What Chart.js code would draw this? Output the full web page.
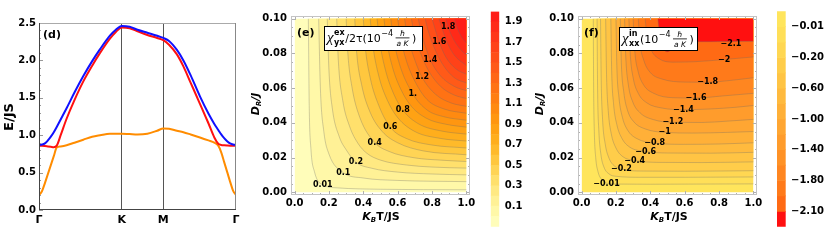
<!DOCTYPE html>
<html><head><meta charset="utf-8">
<script src="https://cdn.jsdelivr.net/npm/chart.js@4.4.1/dist/chart.umd.min.js"></script>
<style>
html,body{margin:0;padding:0;background:#fff;width:830px;height:243px;overflow:hidden}
canvas{position:absolute;top:0}
</style></head><body>
<canvas id="cd" width="245" height="243" style="left:0px"></canvas>
<canvas id="ce" width="235" height="243" style="left:245px"></canvas>
<canvas id="cf" width="240" height="243" style="left:530px"></canvas>
<canvas id="cbe" width="50" height="243" style="left:488px"></canvas>
<canvas id="cbf" width="55" height="243" style="left:775px"></canvas>
<script>
// ================= DATA =================
// Panel (d): band structure along Γ-K-M-Γ
const pathTicks = [0, 0.42, 0.631, 1];
const pathLabels = ['Γ', 'K', 'M', 'Γ'];
const energyTicks = [0, 0.5, 1, 1.5, 2, 2.5];
const kx = [0, 0.015, 0.03, 0.045, 0.06, 0.075, 0.09, 0.11, 0.14, 0.18, 0.225, 0.27, 0.31, 0.36, 0.39, 0.42, 0.46, 0.50, 0.55, 0.60, 0.631, 0.66, 0.70, 0.733, 0.77, 0.817, 0.86, 0.89, 0.91, 0.925, 0.94, 0.955, 0.97, 0.985, 1];
const blueBand = [0.87,0.875,0.89,0.93,0.98,1.04,1.11,1.21,1.36,1.57,1.79,1.99,2.15,2.33,2.41,2.46,2.45,2.41,2.37,2.33,2.30,2.26,2.14,2.00,1.80,1.52,1.29,1.15,1.07,1.01,0.96,0.92,0.89,0.875,0.87];
const redBand = [0.86,0.858,0.855,0.85,0.845,0.84,0.86,1.00,1.22,1.47,1.72,1.93,2.10,2.29,2.38,2.44,2.43,2.39,2.34,2.30,2.27,2.21,2.08,1.92,1.70,1.42,1.16,0.97,0.885,0.87,0.865,0.862,0.86,0.86,0.86];
const orangeBand = [0.20,0.25,0.36,0.48,0.60,0.72,0.835,0.85,0.865,0.90,0.94,0.98,1.00,1.02,1.02,1.02,1.015,1.01,1.02,1.06,1.09,1.085,1.06,1.04,1.01,0.97,0.93,0.90,0.86,0.77,0.64,0.51,0.38,0.26,0.20];

// Panels (e),(f): axes
const tempTicks = [0, 0.2, 0.4, 0.6, 0.8, 1.0];
const drTicks = [0, 0.02, 0.04, 0.06, 0.08, 0.10];

// Panel (e): contour levels and contour lines (x = KBT/JS, y = DR/J)
const eLevels = [0.01,0.1,0.2,0.3,0.4,0.5,0.6,0.7,0.8,0.9,1.0,1.1,1.2,1.3,1.4,1.5,1.6,1.7,1.8,1.9];
const eContourX = [
  [0.08,0.085,0.095,0.115,0.164,0.25,0.5,1],
  [0.14,0.15,0.17,0.2,0.283,0.4,0.6,1],
  [0.19,0.2,0.22,0.26,0.3,0.357,0.45,0.6,0.8,1],
  [0.245,0.255,0.28,0.32,0.37,0.42,0.5,0.65,0.8,1],
  [0.30,0.31,0.335,0.38,0.466,0.55,0.7,0.85,1],
  [0.35,0.36,0.39,0.44,0.51,0.6,0.75,1],
  [0.40,0.41,0.44,0.49,0.557,0.65,0.8,1],
  [0.44,0.455,0.49,0.54,0.6,0.7,0.85,1],
  [0.48,0.495,0.53,0.58,0.63,0.72,0.86,1],
  [0.52,0.535,0.57,0.62,0.68,0.77,0.88,1],
  [0.56,0.575,0.61,0.688,0.77,0.87,1],
  [0.60,0.615,0.65,0.7,0.77,0.87,1],
  [0.64,0.655,0.69,0.742,0.82,0.91,1],
  [0.68,0.695,0.73,0.78,0.85,0.93,1],
  [0.72,0.735,0.765,0.79,0.85,0.93,1],
  [0.76,0.775,0.81,0.86,0.93,1],
  [0.80,0.815,0.842,0.88,0.94,1],
  [0.84,0.855,0.885,0.93,1],
  [0.88,0.894,0.92,0.96,1],
  [0.93,0.95,0.975,1]
];
const eContourY = [
  [0.1,0.05,0.025,0.012,0.0042,0.0025,0.0017,0.0014],
  [0.1,0.06,0.035,0.022,0.0113,0.0082,0.0068,0.0061],
  [0.1,0.07,0.048,0.032,0.0245,0.0173,0.0138,0.0116,0.0105,0.010],
  [0.1,0.075,0.053,0.038,0.028,0.0225,0.0185,0.0157,0.0145,0.0139],
  [0.1,0.08,0.06,0.043,0.0287,0.0235,0.0198,0.0185,0.0177],
  [0.1,0.082,0.062,0.046,0.035,0.0285,0.0238,0.0216],
  [0.1,0.085,0.066,0.05,0.0375,0.031,0.0272,0.0255],
  [0.1,0.085,0.067,0.053,0.043,0.035,0.031,0.0295],
  [0.1,0.087,0.07,0.056,0.0473,0.0395,0.0352,0.0335],
  [0.1,0.088,0.072,0.059,0.0495,0.0425,0.0392,0.0375],
  [0.1,0.089,0.074,0.0567,0.0475,0.0435,0.0415],
  [0.1,0.09,0.076,0.064,0.0535,0.048,0.0455],
  [0.1,0.091,0.079,0.0663,0.0565,0.0515,0.0495],
  [0.1,0.092,0.081,0.07,0.061,0.056,0.054],
  [0.1,0.093,0.083,0.0763,0.067,0.061,0.0585],
  [0.1,0.094,0.084,0.074,0.066,0.063],
  [0.1,0.095,0.0865,0.078,0.071,0.068],
  [0.1,0.0955,0.087,0.079,0.073],
  [0.1,0.0952,0.089,0.083,0.079],
  [0.1,0.094,0.089,0.086]
];
const eLabelText = ['0.01','0.1','0.2','0.4','0.6','0.8','1.','1.2','1.4','1.6','1.8'];
const eLabelX = [0.164,0.283,0.357,0.466,0.557,0.63,0.688,0.742,0.79,0.842,0.894];
const eLabelY = [0.004,0.0113,0.0173,0.0287,0.0375,0.0473,0.0567,0.0663,0.0763,0.0865,0.0952];
const eBarTickPos = [2,4,6,8,10,12,14,16,18,20];
const eBarTickLabels = ['0.1','0.3','0.5','0.7','0.9','1.1','1.3','1.5','1.7','1.9'];

// Panel (f): contour levels and contour lines
const fLevels = [-0.01,-0.1,-0.2,-0.4,-0.6,-0.8,-1.0,-1.2,-1.4,-1.6,-1.8,-2.0,-2.1];
const fContourX = [
  [0.068,0.070,0.074,0.082,0.095,0.115,0.145,0.2,0.4,0.7,1],
  [0.09,0.093,0.1,0.112,0.13,0.16,0.2,0.35,0.6,1],
  [0.11,0.114,0.122,0.137,0.16,0.19,0.232,0.35,0.6,1],
  [0.14,0.145,0.155,0.172,0.2,0.24,0.309,0.45,0.7,1],
  [0.17,0.175,0.186,0.205,0.235,0.28,0.373,0.5,0.75,1],
  [0.20,0.205,0.217,0.238,0.27,0.32,0.425,0.6,0.8,1],
  [0.225,0.231,0.245,0.268,0.305,0.37,0.483,0.65,0.85,1],
  [0.25,0.257,0.272,0.298,0.34,0.42,0.531,0.7,0.85,1],
  [0.275,0.283,0.3,0.33,0.38,0.47,0.593,0.75,0.9,1],
  [0.30,0.309,0.328,0.36,0.42,0.53,0.666,0.82,1],
  [0.33,0.34,0.362,0.4,0.47,0.6,0.734,0.87,1],
  [0.37,0.38,0.405,0.45,0.53,0.65,0.83,1],
  [0.444,0.455,0.475,0.5,0.525,0.56,0.62,0.75,0.869,1]
];
const fContourY = [
  [0.1,0.06,0.035,0.02,0.012,0.0075,0.0052,0.0047,0.0046,0.0047,0.0048],
  [0.1,0.06,0.036,0.022,0.0145,0.0105,0.0092,0.0086,0.0086,0.0088],
  [0.1,0.065,0.042,0.028,0.0195,0.0152,0.0133,0.0122,0.0121,0.0124],
  [0.1,0.068,0.047,0.034,0.0255,0.0205,0.0183,0.0172,0.0171,0.0175],
  [0.1,0.07,0.051,0.039,0.031,0.026,0.0235,0.0226,0.0225,0.023],
  [0.1,0.073,0.055,0.043,0.0355,0.031,0.0283,0.0276,0.0278,0.0285],
  [0.1,0.075,0.058,0.047,0.0405,0.0365,0.0345,0.0341,0.0345,0.035],
  [0.1,0.078,0.062,0.052,0.0458,0.0418,0.0403,0.0402,0.041,0.042],
  [0.1,0.08,0.066,0.057,0.0515,0.0485,0.0476,0.048,0.049,0.050],
  [0.1,0.082,0.07,0.062,0.057,0.0545,0.0543,0.0555,0.057],
  [0.1,0.086,0.076,0.069,0.0652,0.0635,0.0634,0.0645,0.066],
  [0.1,0.09,0.082,0.077,0.075,0.0752,0.0765,0.078],
  [0.1,0.09,0.083,0.081,0.0825,0.0855,0.0866,0.0868,0.0869,0.087]
];
const fLabelText = ['−0.01','−0.2','−0.4','−0.6','−0.8','−1','−1.2','−1.4','−1.6','−1.8','−2','−2.1'];
const fLabelX = [0.145,0.232,0.309,0.373,0.425,0.483,0.531,0.593,0.666,0.734,0.83,0.869];
const fLabelY = [0.0046,0.0133,0.0183,0.0235,0.0283,0.0345,0.0403,0.0476,0.0543,0.0634,0.0765,0.0855];
const fBarTickPos = [1,3,5,7,9,11,13];
const fBarTickLabels = ['−0.01','−0.20','−0.60','−1.00','−1.40','−1.80','−2.10'];

// ================= STYLES =================
const eColors = ['#FFFDBA','#FFF8A8','#FFF196','#FFE982','#FFE06C','#FFD455','#FFC73E','#FFBA2A','#FFAE1C','#FFA214',
  '#FF9610','#FF8A10','#FF7E12','#FF7214','#FF6616','#FF5A18','#FF4E18','#FF4218','#FF3618','#FF2A18','#FF1E18'];
const fColors = ['#FFE55C','#FFDF58','#FFD752','#FFCD4A','#FFC444','#FFBA3E','#FFB038','#FFA632','#FF9C2C','#FF9226',
  '#FF8620','#FF7A1A','#FF6A14','#FF1010'];
const FONT = '"DejaVu Sans", sans-serif';

Chart.defaults.font.family = FONT;
Chart.defaults.font.size = 10;
Chart.defaults.font.weight = 'bold';
Chart.defaults.color = '#000';
Chart.defaults.animation = false;
Chart.defaults.plugins.legend.display = false;
Chart.defaults.plugins.tooltip.enabled = false;

function seg(ctx, x1, y1, x2, y2) { ctx.beginPath(); ctx.moveTo(x1, y1); ctx.lineTo(x2, y2); ctx.stroke(); }

// draw a sequence of text parts horizontally (optionally rotated) centred at cx, cy
function richText(ctx, cx, cy, parts, rotate) {
  ctx.save();
  ctx.translate(cx, cy);
  if (rotate) ctx.rotate(-Math.PI / 2);
  let total = 0;
  parts.forEach(p => { ctx.font = p.font; total += ctx.measureText(p.t).width; });
  let x = -total / 2;
  ctx.textBaseline = 'middle'; ctx.textAlign = 'left'; ctx.fillStyle = '#000';
  parts.forEach(p => { ctx.font = p.font; ctx.fillText(p.t, x, p.dy || 0); x += ctx.measureText(p.t).width; });
  ctx.restore();
}

function drawLegend(ctx, x0, y0, w, h, sup, sub, mid) {
  ctx.save();
  ctx.fillStyle = '#fff'; ctx.fillRect(x0, y0, w, h);
  ctx.strokeStyle = '#000'; ctx.lineWidth = 1; ctx.strokeRect(x0 + 0.5, y0 + 0.5, w - 1, h - 1);
  const base = y0 + 16;
  let x = x0 + 3;
  ctx.fillStyle = '#000'; ctx.textBaseline = 'alphabetic'; ctx.textAlign = 'left';
  ctx.font = 'italic 15px "Liberation Serif"';
  ctx.fillText('χ', x, base); x += ctx.measureText('χ').width + 0.5;
  ctx.font = 'bold 8px ' + FONT;
  ctx.fillText(sup, x, base - 7);
  ctx.fillText(sub, x, base + 2.5);
  x += Math.max(ctx.measureText(sup).width, ctx.measureText(sub).width) + 0.5;
  ctx.font = '11px ' + FONT;
  ctx.fillText(mid, x, base); x += ctx.measureText(mid).width;
  ctx.font = '8px ' + FONT;
  ctx.fillText('−4', x + 0.5, base - 6); x += ctx.measureText('−4').width + 3;
  ctx.font = 'italic 7.5px ' + FONT;
  const fw = ctx.measureText('a K').width + 2;
  ctx.textAlign = 'center';
  ctx.fillText('ħ', x + fw / 2, base - 6);
  ctx.fillRect(x, base - 4.5, fw, 0.8);
  ctx.fillText('a K', x + fw / 2, base + 3.5);
  x += fw + 2.5;
  ctx.textAlign = 'left';
  ctx.font = '11px ' + FONT;
  ctx.fillText(')', x, base);
  ctx.restore();
}

// ================= PANEL (d) =================
const dDecor = {
  id: 'dDecor',
  afterDraw(chart) {
    const { ctx, chartArea: a, scales: { y } } = chart;
    ctx.save();
    ctx.lineWidth = 1;
    ctx.strokeStyle = '#999';
    for (let k = 0; k <= 25; k++) {
      const py = Math.round(y.getPixelForValue(k * 0.1)) + 0.5;
      seg(ctx, a.left, py, a.left + (k % 5 === 0 ? 4 : 2), py);
    }
    ctx.strokeStyle = '#aaa'; seg(ctx, a.left, a.top + 0.5, a.right, a.top + 0.5);
    ctx.strokeStyle = '#888'; seg(ctx, a.right - 0.5, a.top, a.right - 0.5, a.bottom);
    ctx.strokeStyle = '#444';
    seg(ctx, a.left + 0.5, a.top, a.left + 0.5, a.bottom);
    seg(ctx, a.left, a.bottom - 0.5, a.right, a.bottom - 0.5);
    ctx.fillStyle = '#000'; ctx.font = 'bold 11px ' + FONT; ctx.textBaseline = 'middle'; ctx.textAlign = 'left';
    ctx.fillText('(d)', 43, 35);
    richText(ctx, 10, 117, [{ t: 'E/JS', font: 'bold 13px ' + FONT }], true);
    ctx.restore();
  }
};

const lineDs = (vals, color) => ({
  data: kx.map((x, i) => ({ x, y: vals[i] })),
  borderColor: color, borderWidth: 2, pointRadius: 0, fill: false, cubicInterpolationMode: 'monotone'
});

new Chart(document.getElementById('cd'), {
  type: 'line',
  data: { datasets: [lineDs(blueBand, '#1010FF'), lineDs(redBand, '#FF1010'), lineDs(orangeBand, '#FF8C00')] },
  options: {
    responsive: false, animation: false,
    layout: { padding: { left: 0, right: 9, top: 23, bottom: 0 } },
    scales: {
      x: {
        type: 'linear', min: 0, max: 1,
        afterFit(s) { s.height = 33; },
        afterBuildTicks(s) { s.ticks = pathTicks.map(v => ({ value: v })); },
        ticks: { callback: (v, i) => pathLabels[i], padding: 4, font: { size: 11 }, maxRotation: 0, autoSkip: false },
        grid: { drawTicks: false, lineWidth: 1, color: c => (c.tick && c.tick.value > 0 && c.tick.value < 1) ? '#555' : 'rgba(0,0,0,0)' },
        border: { display: false }
      },
      y: {
        min: 0, max: 2.5,
        afterFit(s) { s.width = 39; },
        afterBuildTicks(s) { s.ticks = energyTicks.map(v => ({ value: v })); },
        ticks: { callback: v => v.toFixed(1), padding: 3 },
        grid: { display: false, drawTicks: false },
        border: { display: false }
      }
    }
  },
  plugins: [dDecor]
});

// ================= PANELS (e),(f) =================
function contourPanel(id, offX, levels, cx, cy, colors, lblT, lblX, lblY, padR, yW, legend, letter, xTitleCx, yTitleCx) {
  const datasets = [{
    data: [{ x: 0, y: 0 }, { x: 1, y: 0 }], fill: { value: 0.1 }, backgroundColor: colors[0],
    borderWidth: 0, pointRadius: 0, order: 0
  }];
  levels.forEach((L, i) => {
    datasets.push({
      data: cx[i].map((x, j) => ({ x, y: cy[i][j] })),
      fill: { value: 0.1 }, backgroundColor: colors[i + 1],
      borderColor: 'rgba(105,105,105,0.45)', borderWidth: 0.7,
      pointRadius: 0, cubicInterpolationMode: 'monotone', order: -(i + 1)
    });
  });
  const decor = {
    id: 'decor' + id,
    afterDraw(chart) {
      const { ctx, chartArea: a, scales: { x, y } } = chart;
      ctx.save();
      ctx.lineWidth = 1; ctx.strokeStyle = '#b0b0b0';
      for (let k = 0; k <= 20; k++) {
        const px = Math.round(x.getPixelForValue(k * 0.05)) + 0.5, len = k % 4 === 0 ? 4 : 2;
        seg(ctx, px, a.bottom, px, a.bottom - len); seg(ctx, px, a.top, px, a.top + len);
        const py = Math.round(y.getPixelForValue(k * 0.005)) + 0.5;
        seg(ctx, a.left, py, a.left + len, py); seg(ctx, a.right, py, a.right - len, py);
      }
      ctx.strokeStyle = '#c4c4c4';
      ctx.strokeRect(a.left + 0.5, a.top + 0.5, a.width - 1, a.height - 1);
      ctx.fillStyle = '#000'; ctx.font = 'bold 8px ' + FONT; ctx.textAlign = 'center'; ctx.textBaseline = 'middle';
      lblT.forEach((t, i) => ctx.fillText(t, x.getPixelForValue(lblX[i]), y.getPixelForValue(lblY[i])));
      ctx.font = 'bold 11px ' + FONT; ctx.textAlign = 'left';
      ctx.fillText(letter.t, letter.x, letter.y);
      drawLegend(ctx, legend.x, legend.y, legend.w, legend.h, legend.sup, legend.sub, legend.mid);
      richText(ctx, xTitleCx, 217, [
        { t: 'K', font: 'italic bold 11px ' + FONT },
        { t: 'B', font: 'italic bold 7px ' + FONT, dy: 3 },
        { t: 'T/JS', font: 'bold 11px ' + FONT }], false);
      richText(ctx, yTitleCx, 104, [
        { t: 'D', font: 'italic bold 11px ' + FONT },
        { t: 'R', font: 'italic bold 7px ' + FONT, dy: 3 },
        { t: '/J', font: 'italic bold 11px ' + FONT }], true);
      ctx.restore();
    }
  };
  new Chart(document.getElementById(id), {
    type: 'line',
    data: { datasets },
    options: {
      responsive: false, animation: false,
      layout: { padding: { left: 0, right: padR, top: 16, bottom: 0 } },
      scales: {
        x: {
          type: 'linear', min: -0.021, max: 1.021,
          afterFit(s) { s.height = 48; },
          afterBuildTicks(s) { s.ticks = tempTicks.map(v => ({ value: v })); },
          ticks: { callback: v => v.toFixed(1), padding: 2, maxRotation: 0, autoSkip: false },
          grid: { display: false, drawTicks: false }, border: { display: false }
        },
        y: {
          min: -0.0016, max: 0.1016,
          afterFit(s) { s.width = yW; },
          afterBuildTicks(s) { s.ticks = drTicks.map(v => ({ value: v })); },
          ticks: { callback: v => v.toFixed(2), padding: 4, autoSkip: false },
          grid: { display: false, drawTicks: false }, border: { display: false }
        }
      }
    },
    plugins: [decor]
  });
}

contourPanel('ce', 245, eLevels, eContourX, eContourY, eColors, eLabelText, eLabelX, eLabelY, 10, 46,
  { x: 324 - 245, y: 26, w: 99, h: 25, sup: 'ex', sub: 'yx', mid: '/2τ(10' },
  { t: '(e)', x: 297 - 245, y: 33.5 }, 381 - 245, 256 - 245);
contourPanel('cf', 530, fLevels, fContourX, fContourY, fColors, fLabelText, fLabelX, fLabelY, 13, 48,
  { x: 619 - 530, y: 27, w: 79, h: 24, sup: 'in', sub: 'xx', mid: '(10' },
  { t: '(f)', x: 584 - 530, y: 33.5 }, 669 - 530, 540 - 530);

// ================= COLOR BARS =================
function colorBar(id, colors, tickPos, tickLabels, reverse, padL, yW, padT, padB, tickPad) {
  new Chart(document.getElementById(id), {
    type: 'bar',
    data: { labels: [''], datasets: colors.map(c => ({ data: [1], backgroundColor: c, borderWidth: 0, barPercentage: 1, categoryPercentage: 1 })) },
    options: {
      responsive: false, animation: false,
      layout: { padding: { left: padL, right: 0, top: padT, bottom: padB } },
      scales: {
        x: { display: false, stacked: true },
        y: {
          stacked: true, position: 'right', min: 0, max: colors.length, reverse,
          afterFit(s) { s.width = yW; },
          afterBuildTicks(s) { s.ticks = tickPos.map(v => ({ value: v })); },
          ticks: { callback: (v, i) => tickLabels[i], padding: tickPad, autoSkip: false },
          grid: { display: false, drawTicks: false }, border: { display: false }
        }
      }
    }
  });
}
colorBar('cbe', eColors, eBarTickPos, eBarTickLabels, false, 2.7, 38.7, 10, 16.3, 5.5);
colorBar('cbf', fColors, fBarTickPos, fBarTickLabels, true, 2, 44.3, 9.3, 16.3, 5.3);
</script>
</body></html>
